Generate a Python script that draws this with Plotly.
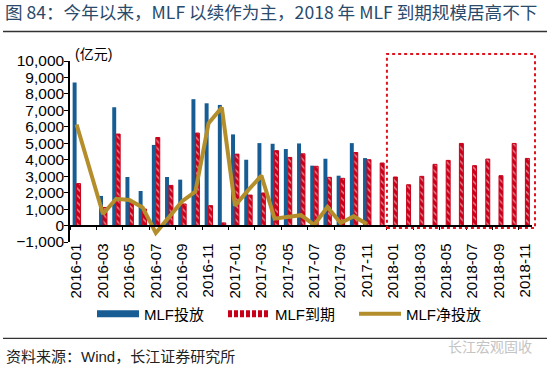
import plotly.graph_objects as go

months = ["2016-01","2016-02","2016-03","2016-04","2016-05","2016-06","2016-07","2016-08","2016-09","2016-10","2016-11","2016-12",
          "2017-01","2017-02","2017-03","2017-04","2017-05","2017-06","2017-07","2017-08","2017-09","2017-10","2017-11","2017-12",
          "2018-01","2018-02","2018-03","2018-04","2018-05","2018-06","2018-07","2018-08","2018-09","2018-10","2018-11"]

mlf_issue = [8690, None, 1800, 7190, 2950, 2100, 4900, 2950, 2790, 7680, 7430, 7330,
             5540, 4000, 5010, 4970, 4650, 4990, 3640, 4060, 3030, 5010, 4100, None,
             None, None, None, None, None, None, None, None, None, None, None]

mlf_mature = [2550, None, 1100, 5560, 1400, 1000, 5350, 2440, 1310, 5620, 1210, 160,
              4340, 1850, 1980, 4550, 4140, 4360, 3600, 2930, 2870, 4440, 4000, 3800,
              2950, 2480, 2990, 3720, 3960, 4990, 3640, 4040, 3030, 4990, 4080]

mlf_net = [6140, None, 700, 1630, 1550, 1100, -450, 510, 1480, 2060, 6220, 7170,
           1200, 2150, 3030, 420, 510, 630, 40, 1130, 160, 570, 100]

y_ticks = [-1000, 0, 1000, 2000, 3000, 4000, 5000, 6000, 7000, 8000, 9000, 10000]

BLUE = "#175D93"
RED = "#C8001A"
GOLD = "#B58E2C"
FONT = "Liberation Sans, Noto Sans CJK SC, sans-serif"

fig = go.Figure()
fig.add_trace(go.Bar(x=months, y=mlf_issue, name="MLF投放", marker=dict(color=BLUE, line=dict(width=0)),
                     showlegend=False))
fig.add_trace(go.Bar(x=months, y=mlf_mature, name="MLF到期",
                     marker=dict(color=RED, line=dict(color=RED, width=1),
                                 pattern=dict(shape="\\", fgcolor="white", bgcolor=RED, size=5,
                                              solidity=0.3, fillmode="overlay")),
                     showlegend=False))
fig.add_trace(go.Scatter(x=months[:len(mlf_net)], y=mlf_net, name="MLF净投放", mode="lines",
                         line=dict(color=GOLD, width=4), connectgaps=True, xaxis="x2",
                         showlegend=False))
# legend entries
fig.add_trace(go.Scatter(x=[None], y=[None], mode="lines", name="MLF投放",
                         line=dict(color=BLUE, width=7)))
fig.add_trace(go.Scatter(x=[None], y=[None], mode="lines", name="MLF到期",
                         line=dict(color=RED, width=7, dash="4px,2px")))
fig.add_trace(go.Scatter(x=[None], y=[None], mode="lines", name="MLF净投放",
                         line=dict(color=GOLD, width=4)))

xrange = [-0.5, 34.5]

fig.update_layout(
    width=550, height=368, autosize=False,
    margin=dict(l=70, r=18, t=61, b=126),
    paper_bgcolor="white", plot_bgcolor="white",
    font=dict(family=FONT, size=15, color="black"),
    barmode="group", bargap=0.4, bargroupgap=0,
    title=dict(text="图 84：今年以来，MLF 以续作为主，2018 年 MLF 到期规模居高不下",
               x=0.009, xanchor="left", xref="container",
               y=1 - 13 / 368, yanchor="middle", yref="container",
               font=dict(family="Noto Sans CJK SC, sans-serif", size=17.6, color="#2A4A6B")),
    xaxis=dict(type="category", categoryorder="array", categoryarray=months,
               range=xrange, autorange=False, anchor="free", position=0.014,
               tickmode="linear", tick0=0, dtick=2, tickangle=-90,
               showline=False, ticks="", showgrid=False, zeroline=False,
               tickfont=dict(size=15)),
    xaxis2=dict(type="category", categoryorder="array", categoryarray=months,
                range=xrange, autorange=False,
                overlaying="x", anchor="free", position=1000 / 11000,
                tickmode="linear", tick0=0, dtick=2, tickson="boundaries",
                showline=True, linecolor="black", linewidth=1.5,
                ticks="outside", ticklen=4, tickcolor="black",
                showticklabels=False, showgrid=False, zeroline=False),
    yaxis=dict(range=[-1000, 10000], tickmode="array", tickvals=y_ticks,
               tickformat=",", showline=True, linecolor="black", linewidth=1.5,
               ticks="outside", ticklen=4, tickcolor="black",
               showgrid=False, zeroline=False, tickfont=dict(size=15.5),
               ticklabelstandoff=-3),
    legend=dict(orientation="h", x=0.0476, xanchor="left", y=-0.398, yanchor="middle",
                font=dict(size=15), itemwidth=42, entrywidth=74, entrywidthmode="pixels",
                bgcolor="rgba(0,0,0,0)"),
    shapes=[
        dict(type="rect", xref="paper", yref="paper", x0=0.686, x1=1.0065, y0=0.077, y1=1.0387,
             line=dict(color="#E0141E", width=2, dash="dot"), fillcolor="rgba(0,0,0,0)"),
        dict(type="line", xref="paper", yref="paper", x0=-0.145, x1=1.0325, y0=1.1624, y1=1.1624,
             line=dict(color="#333333", width=1.5)),
        dict(type="line", xref="paper", yref="paper", x0=-0.145, x1=1.0325, y0=-0.532, y1=-0.532,
             line=dict(color="#333333", width=1.2)),
    ],
    annotations=[
        dict(text="(亿元)", xref="paper", yref="paper", x=0.0065, y=1.0387, xanchor="left",
             yanchor="middle", showarrow=False, font=dict(size=14)),
        dict(text="资料来源：Wind，长江证券研究所", xref="paper", yref="paper", x=-0.1429, y=-0.6337,
             xanchor="left", yanchor="middle", showarrow=False,
             font=dict(family=FONT, size=15, color="#222222")),
        dict(text="长江宏观固收", xref="paper", yref="paper", x=0.909, y=-0.575,
             xanchor="center", yanchor="middle", showarrow=False,
             font=dict(family="Noto Sans CJK SC, sans-serif", size=14, color="#C4C4C4")),
    ],
)

fig.write_html("out.html", config={"displayModeBar": False},
               post_script="document.body.style.margin='0';")
